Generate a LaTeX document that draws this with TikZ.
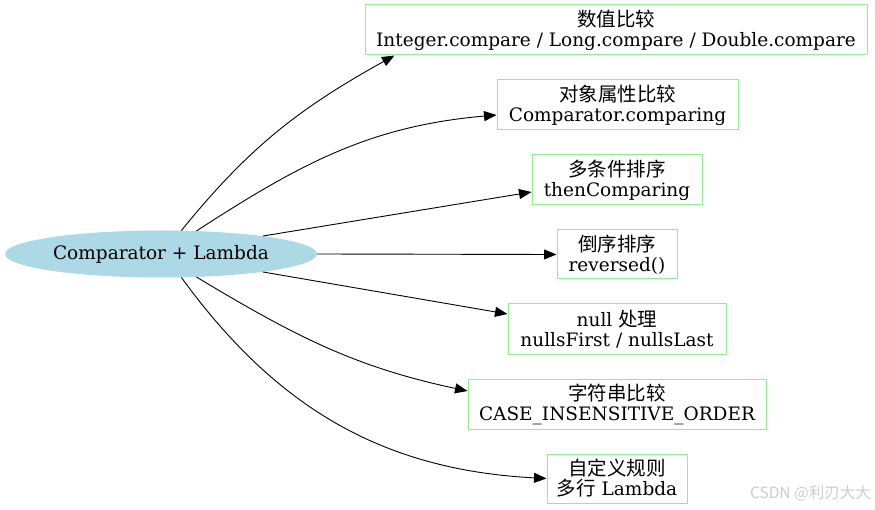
\documentclass[tikz,border=0pt]{standalone}
\usepackage{fontspec}
\setmainfont{DejaVu Serif}
\newfontfamily\cjk{Noto Sans CJK SC}
\usetikzlibrary{arrows.meta,shapes.geometric}
\definecolor{boxgreen}{HTML}{90EE90}
\definecolor{lblue}{HTML}{ADD8E6}
\newcommand{\zh}[1]{{\cjk\fontsize{19.5}{20}\selectfont #1}}
\begin{document}
\begin{tikzpicture}[x=1pt,y=1pt,
  txt/.style={font=\fontsize{18.5}{20}\selectfont},
  box/.style={txt, draw=boxgreen, line width=1pt, rectangle, inner sep=0pt, align=center, minimum height=50pt},
  arr/.style={-{Triangle[length=12.5pt,width=10pt]}, line width=0.9pt}]
\useasboundingbox (0,0) rectangle (875,509);

\node[txt, ellipse, fill=lblue, inner sep=0pt, minimum width=312pt, minimum height=47pt] (e) at (161,255) {Comparator + Lambda};

\node[box, minimum width=502pt] (b1) at (616,479) {\zh{数值比较}\\Integer.compare / Long.compare / Double.compare};
\node[box, minimum width=241pt] (b2) at (617.5,404) {\zh{对象属性比较}\\Comparator.comparing};
\node[box, minimum width=170pt] (b3) at (617,329) {\zh{多条件排序}\\thenComparing};
\node[box, minimum width=120pt, minimum height=49pt] (b4) at (617,254.5) {\zh{倒序排序}\\reversed()};
\node[box, minimum width=218pt] (b5) at (617,180) {null \zh{处理}\\nullsFirst / nullsLast};
\node[box, minimum width=298pt] (b6) at (617,105) {\zh{字符串比较}\\CASE\_INSENSITIVE\_ORDER};
\node[box, minimum width=140pt, minimum height=49pt] (b7) at (617,30.5) {\zh{自定义规则}\\\zh{多行} Lambda};

\node[anchor=east, text=gray!40, font=\cjk\fontsize{15.5}{17}\selectfont, inner sep=0pt] (wm) at (871,16) {CSDN @利刃大大};

\draw[arr] (e.49) to[out=51,in=209] ([xshift=30pt]b1.south west);
\draw[arr] (e.33) to[out=33,in=185] ([yshift=-10pt]b2.west);
\draw[arr] (e.10.4) -- ([yshift=-12pt]b3.west);
\draw[arr] (e.east) -- (b4.west);
\draw[arr] (e.-10.4) -- ([yshift=15pt]b5.west);
\draw[arr] (e.-33) to[out=-31,in=168] ([yshift=13pt]b6.west);
\draw[arr] (e.-49) to[out=-54,in=177] (b7.west);
\end{tikzpicture}
\end{document}
